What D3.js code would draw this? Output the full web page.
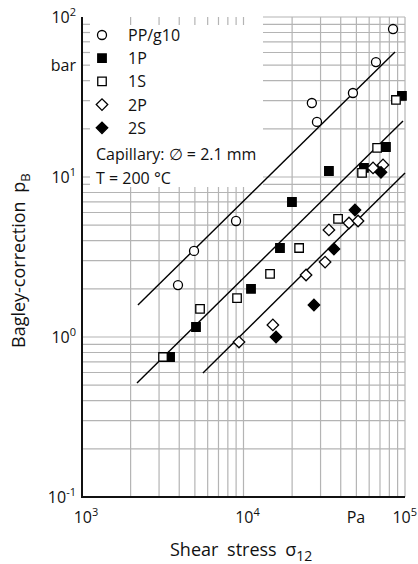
<!DOCTYPE html>
<html>
<head>
<meta charset="utf-8">
<script src="https://cdn.jsdelivr.net/npm/d3@7"></script>
<style>
  body { margin: 0; background: #fff; }
  svg { font-family: "Open Sans", sans-serif; }
</style>
</head>
<body>
<div id="chart"></div>
<script>
// shear stress (Pa) / Bagley correction (bar)
const ppX = [3930, 4940, 8990, 26500, 28500, 47600, 66100, 84300];
const ppY = [2.11, 3.45, 5.31, 29.0, 22.1, 33.5, 52.3, 84.1];
const p1X = [3510, 5080, 11130, 16820, 19950, 33800, 55700, 76200, 95700];
const p1Y = [0.75, 1.155, 2.0, 3.6, 6.98, 10.9, 11.4, 15.4, 32.1];
const s1X = [3175, 5380, 9120, 14600, 22100, 38500, 54200, 67200, 87900];
const s1Y = [0.75, 1.5, 1.75, 2.48, 3.6, 5.47, 10.6, 15.2, 30.3];
const p2X = [9380, 15200, 24400, 32000, 33800, 45000, 51200, 63400, 73100];
const p2Y = [0.93, 1.19, 2.44, 2.94, 4.67, 5.16, 5.31, 11.4, 11.9];
const s2X = [15900, 27300, 36300, 49000, 71000];
const s2Y = [1.0, 1.585, 3.55, 6.22, 10.7];

// fitted lines, end points [x, y]
const fitTop = [[2220, 1.585], [86700, 60.4]];
const fitMid = [[2190, 0.516], [97200, 22.4]];
const fitLow = [[5610, 0.596], [100000, 10.6]];

const seriesNames = ["PP/g10", "1P", "1S", "2P", "2S"];
const xTickLabels = ["3", "4", "5"];
const yTickLabels = ["-1", "0", "1", "2"];

const W = 418, H = 564;
const m = { left: 82, right: 405, top: 17, bottom: 497 };
const boxRight = 263, boxBottom = 187, tick = 8;

const svg = d3.select("#chart").append("svg")
  .attr("width", W).attr("height", H);

const x = d3.scaleLog().domain([1e3, 1e5]).range([m.left, m.right]);
const y = d3.scaleLog().domain([0.1, 100]).range([m.bottom, m.top]);

// grid
const xGrid = [], yGrid = [];
[1e3, 1e4].forEach(d => d3.range(1, 10).forEach(k => xGrid.push(d * k)));
xGrid.push(1e5);
[0.1, 1, 10].forEach(d => d3.range(1, 10).forEach(k => yGrid.push(d * k)));
yGrid.push(100);

const grid = svg.append("g").attr("stroke", "#b4b4b4").attr("stroke-width", 1.2);
xGrid.slice(1).forEach(v => {
  const px = x(v);
  if (px < boxRight) {
    grid.append("line").attr("x1", px).attr("x2", px).attr("y1", boxBottom).attr("y2", m.bottom);
    grid.append("line").attr("x1", px).attr("x2", px).attr("y1", m.top).attr("y2", m.top + tick);
  } else {
    grid.append("line").attr("x1", px).attr("x2", px).attr("y1", m.top).attr("y2", m.bottom);
  }
});
yGrid.slice(1).forEach(v => {
  const py = y(v);
  if (py < boxBottom) {
    grid.append("line").attr("x1", boxRight).attr("x2", m.right).attr("y1", py).attr("y2", py);
    if (v < 100) grid.append("line").attr("x1", m.left).attr("x2", m.left + tick).attr("y1", py).attr("y2", py);
  } else {
    grid.append("line").attr("x1", m.left).attr("x2", m.right).attr("y1", py).attr("y2", py);
  }
});

// axes
svg.append("line").attr("x1", m.left).attr("x2", m.left).attr("y1", m.top).attr("y2", m.bottom + 1)
  .attr("stroke", "#111").attr("stroke-width", 2);
svg.append("line").attr("x1", m.left - 1).attr("x2", m.right).attr("y1", m.bottom).attr("y2", m.bottom)
  .attr("stroke", "#111").attr("stroke-width", 2);

// fit lines
const line = d3.line().x(d => x(d[0])).y(d => y(d[1]));
[fitTop, fitMid, fitLow].forEach(f => {
  svg.append("path").attr("d", line(f)).attr("fill", "none")
    .attr("stroke", "#000").attr("stroke-width", 1.4);
});

// markers
const shapes = {
  "PP/g10": { sym: d3.symbolCircle, size: 64, fill: "#fff", rot: 0 },
  "1P": { sym: d3.symbolSquare, size: 72, fill: "#000", rot: 0 },
  "1S": { sym: d3.symbolSquare, size: 72, fill: "#fff", rot: 0 },
  "2P": { sym: d3.symbolSquare, size: 66, fill: "#fff", rot: 45 },
  "2S": { sym: d3.symbolSquare, size: 66, fill: "#000", rot: 45 }
};
const seriesData = {
  "PP/g10": d3.zip(ppX, ppY),
  "1P": d3.zip(p1X, p1Y),
  "1S": d3.zip(s1X, s1Y),
  "2P": d3.zip(p2X, p2Y),
  "2S": d3.zip(s2X, s2Y)
};

function marker(g, name, cx, cy) {
  const s = shapes[name];
  g.append("path")
    .attr("d", d3.symbol(s.sym, s.size)())
    .attr("transform", `translate(${cx},${cy}) rotate(${s.rot})`)
    .attr("fill", s.fill).attr("stroke", "#000").attr("stroke-width", 1.3);
}

const pts = svg.append("g");
seriesNames.forEach(name => {
  seriesData[name].forEach(d => marker(pts, name, x(d[0]), y(d[1])));
});

// legend
const leg = svg.append("g").attr("font-size", 16).attr("fill", "#111");
seriesNames.forEach((name, i) => {
  const cy = 35 + i * 23.2;
  marker(leg, name, 102, cy);
  leg.append("text").attr("x", 128).attr("y", cy + 6).text(name);
});
leg.append("text").attr("x", 96).attr("y", 160).text("Capillary: \u2205 = 2.1 mm");
leg.append("text").attr("x", 96).attr("y", 184).text("T = 200 \u00b0C");

// tick labels
const tl = svg.append("g").attr("font-size", 16).attr("fill", "#111");
xTickLabels.forEach(e => {
  const px = x(Math.pow(10, +e));
  const last = px + 14 > W;
  const t = tl.append("text").attr("x", last ? W - 1 : px + 4).attr("y", 523)
    .attr("text-anchor", last ? "end" : "middle");
  t.append("tspan").text("10");
  t.append("tspan").attr("font-size", 11).attr("dy", -7).text(e);
});
tl.append("text").attr("x", 356).attr("y", 523).attr("text-anchor", "middle").text("Pa");
yTickLabels.forEach(e => {
  const t = tl.append("text").attr("x", 76).attr("y", y(Math.pow(10, +e)) + 6)
    .attr("text-anchor", "end");
  t.append("tspan").text("10");
  t.append("tspan").attr("font-size", 11).attr("dy", -7).text(e);
});
tl.append("text").attr("x", 76).attr("y", y(50) + 6).attr("text-anchor", "end").text("bar");

// axis titles
const xt = svg.append("text").attr("x", 170).attr("y", 556)
  .attr("font-size", 18).attr("fill", "#111").attr("word-spacing", 4);
xt.append("tspan").text("Shear stress \u03c3");
xt.append("tspan").attr("font-size", 14).attr("dy", 5).text("12");

const yt = svg.append("text").attr("transform", "translate(25,348) rotate(-90)")
  .attr("font-size", 18).attr("fill", "#111").attr("word-spacing", 4);
yt.append("tspan").text("Bagley-correction p");
yt.append("tspan").attr("font-size", 13).attr("dy", 5).text("B");
</script>
</body>
</html>
